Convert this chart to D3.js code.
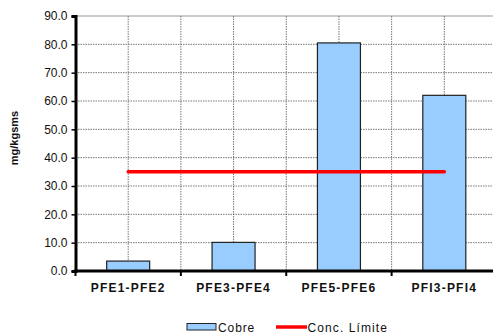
<!DOCTYPE html>
<html><head><meta charset="utf-8">
<script src="https://cdn.jsdelivr.net/npm/d3@7"></script>
<style>body{margin:0;background:#fff}svg{display:block;font-family:"Liberation Sans",Arial,sans-serif}</style>
</head><body>
<svg id="c" width="493" height="333"></svg>
<script>
const categories = ["PFE1-PFE2","PFE3-PFE4","PFE5-PFE6","PFI3-PFI4"];
const cobre = [3.5, 10.1, 80.5, 62.0];
const limite = [35, 35, 35, 35];
const yTicks = [0,10,20,30,40,50,60,70,80,90];

const svg = d3.select("#c");
const L = 75.5, R = 497, T = 16, B = 271;
const x = d3.scaleBand().domain(categories).range([L, R]);
const y = d3.scaleLinear().domain([0, 90]).range([B, T]);

// grid
const g = svg.append("g");
g.selectAll(".hg").data(yTicks.slice(1, -1)).join("line")
  .attr("x1", L).attr("x2", 493).attr("y1", d => y(d)).attr("y2", d => y(d))
  .attr("stroke", "#555").attr("stroke-width", 0.8).attr("stroke-dasharray", "1.5,1");
g.append("line").attr("x1", L).attr("x2", 493).attr("y1", y(90)).attr("y2", y(90))
  .attr("stroke", "#999").attr("stroke-width", 1.2);
const vgrid = [];
categories.forEach(c => { vgrid.push(x(c) + x.bandwidth()/2); vgrid.push(x(c) + x.bandwidth()); });
g.selectAll(".vg").data(vgrid.filter(v => v < 493)).join("line")
  .attr("x1", d => d).attr("x2", d => d).attr("y1", T).attr("y2", B)
  .attr("stroke", "#555").attr("stroke-width", 0.8).attr("stroke-dasharray", "1.5,1");

// bars
const bw = 43;
svg.selectAll(".bar").data(cobre).join("rect")
  .attr("x", (d, i) => x(categories[i]) + x.bandwidth()/2 - bw/2)
  .attr("width", bw)
  .attr("y", d => y(d)).attr("height", d => B - y(d))
  .attr("fill", "#99ccff").attr("stroke", "#222").attr("stroke-width", 1.2);

// line
svg.append("path")
  .attr("d", d3.line().x((d, i) => x(categories[i]) + x.bandwidth()/2).y(d => y(d))(limite))
  .attr("fill", "none").attr("stroke", "#ff0000").attr("stroke-width", 3.5).attr("stroke-linecap", "round");

// y axis
const ya = svg.append("g").attr("transform", `translate(${L},0)`)
  .call(d3.axisLeft(y).tickValues(yTicks).tickFormat(d3.format(".1f")).tickSize(4).tickPadding(4));
ya.select(".domain").attr("stroke", "#000").attr("stroke-width", 3);
ya.selectAll(".tick line").attr("stroke", "#000").attr("stroke-width", 1.5);
ya.selectAll(".tick text").attr("font-size", 12).attr("fill", "#111").attr("font-family", "Liberation Sans, Arial, sans-serif");

// x axis
const xa = svg.append("g").attr("transform", `translate(0,${B})`)
  .call(d3.axisBottom(x).tickSize(0).tickPadding(12));
xa.select(".domain").remove();
svg.append("line").attr("x1", L - 1.5).attr("x2", 493).attr("y1", B).attr("y2", B)
  .attr("stroke", "#000").attr("stroke-width", 3);
svg.selectAll(".xt").data(categories.map(c => x(c))).join("line")
  .attr("x1", d => d).attr("x2", d => d).attr("y1", B).attr("y2", B + 5)
  .attr("stroke", "#000").attr("stroke-width", 2);
xa.selectAll(".tick text").attr("font-size", 12).attr("font-weight", "bold").attr("fill", "#111")
  .attr("letter-spacing", 1.2)
  .attr("font-family", "Liberation Sans, Arial, sans-serif");

// y label
svg.append("text").attr("transform", "translate(18,138) rotate(-90)")
  .attr("text-anchor", "middle").attr("font-size", 11).attr("font-weight", "bold").attr("fill", "#111")
  .text("mg/kgsms");

// legend
svg.append("rect").attr("x", 187).attr("y", 323.5).attr("width", 29).attr("height", 6.5)
  .attr("fill", "#99ccff").attr("stroke", "#222").attr("stroke-width", 1);
svg.append("text").attr("x", 218).attr("y", 331.5).attr("font-size", 12).attr("letter-spacing", 0.9)
  .attr("fill", "#111").text("Cobre");
svg.append("line").attr("x1", 276).attr("x2", 307).attr("y1", 327).attr("y2", 327)
  .attr("stroke", "#ff0000").attr("stroke-width", 3.5);
svg.append("text").attr("x", 307.5).attr("y", 331.5).attr("font-size", 12).attr("letter-spacing", 1.1)
  .attr("fill", "#111").text("Conc. Límite");
</script>
</body></html>
